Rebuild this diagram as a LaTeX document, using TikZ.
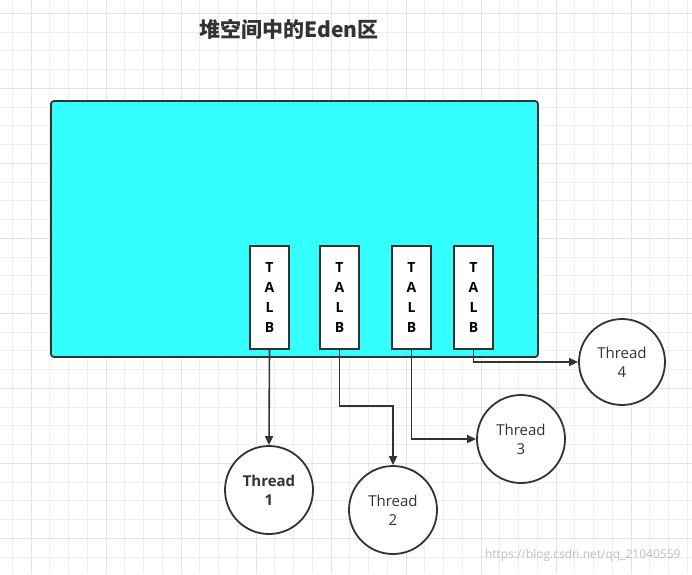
\documentclass[tikz,border=0pt]{standalone}
\usepackage{fontspec}
\setmainfont{Open Sans}
\newfontfamily\cjk{Noto Sans CJK SC}
\usetikzlibrary{arrows.meta}
\definecolor{edge}{HTML}{333333}
\begin{document}
\begin{tikzpicture}[x=1pt,y=-1pt,
  talb/.style={draw=edge,line width=1.6pt,fill=white,minimum width=39pt,minimum height=103pt,inner sep=0pt,align=center,font=\bfseries\fontsize{14}{20}\selectfont},
  thr/.style={circle,draw=edge,line width=1.8pt,fill=white,minimum size=88pt,inner sep=0pt,align=center,font=\fontsize{15}{19}\selectfont,text=edge},
  conn/.style={draw=edge,line width=1.6pt,-{Triangle[length=9pt,width=8pt]}}]
\useasboundingbox (0,0) rectangle (692,574);
\fill[white] (0,0) rectangle (692,574);
\draw[black!7,line width=0.8pt] foreach \i in {0,...,36}{(12.3+18.75*\i,0)--(12.3+18.75*\i,574)};
\draw[black!7,line width=0.8pt] foreach \i in {0,...,30}{(0,13.3+18.75*\i)--(692,13.3+18.75*\i)};
\draw[black!11,line width=0.8pt] foreach \i in {0,...,8}{(31.3+75*\i,0)--(31.3+75*\i,574)};
\draw[black!11,line width=0.8pt] foreach \i in {0,...,7}{(0,13.3+75*\i)--(692,13.3+75*\i)};
\node[font=\cjk\bfseries\fontsize{21}{24}\selectfont,text=edge] (title) at (289,29) {堆空间中的Eden区};
\node[draw=edge,line width=1.8pt,fill={rgb,255:red,51;green,255;blue,255},rounded corners=3pt,minimum width=487pt,minimum height=256pt] (eden) at (294.5,229) {};
\node[talb] (t1) at (269.5,297.5) {T\\A\\L\\B};
\node[talb] (t2) at (339.5,297.5) {T\\A\\L\\B};
\node[talb] (t3) at (411.5,297.5) {T\\A\\L\\B};
\node[talb] (t4) at (473.5,297.5) {T\\A\\L\\B};
\node[thr,font=\bfseries\fontsize{15}{19}\selectfont] (h1) at (269,490) {Thread\\1};
\node[thr] (h2) at (393,510) {Thread\\2};
\node[thr] (h3) at (521,439) {Thread\\3};
\node[thr,minimum size=86pt] (h4) at (622,362) {Thread\\4};
\draw[conn] (t1.south) -- (h1.north);
\draw[conn] (t2.south) |- (366,406) -| (h2.north);
\draw[conn] (t3.south) |- (h3.west);
\draw[conn] (t4.south) |- (h4.west);
\node[text=black!25,font=\fontsize{12}{14}\selectfont,anchor=east] (wm) at (684,555) {https://blog.csdn.net/qq\_21040559};
\end{tikzpicture}
\end{document}
